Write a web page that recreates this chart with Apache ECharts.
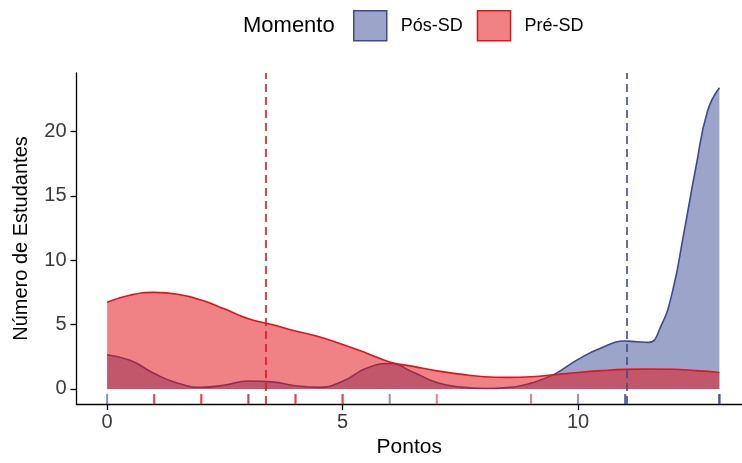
<!DOCTYPE html>
<html>
<head>
<meta charset="utf-8">
<script src="https://cdn.jsdelivr.net/npm/echarts@6/dist/echarts.min.js"></script>
<style>
 html, body { margin: 0; padding: 0; background: #fff; }
 #chart { width: 742px; height: 463px; }
</style>
</head>
<body>
<div id="chart"></div>
<script>
// densidade (escala de contagem)
const pontosPre = [0, 0.5, 1, 1.5, 2, 2.5, 3, 3.5, 4, 4.5, 5, 5.5, 6, 6.5, 7, 7.5, 8, 8.5, 9, 9.5, 10, 10.5, 11, 11.5, 12, 12.5, 13]
const densPre = [6.74, 7.3, 7.5, 7.35, 6.9, 6.2, 5.46, 5.0, 4.5, 4.05, 3.45, 2.8, 2.1, 1.75, 1.4, 1.15, 0.95, 0.9, 0.95, 1.1, 1.28, 1.42, 1.52, 1.55, 1.53, 1.42, 1.28]

const pontosPos = [0, 0.5, 1, 1.5, 2, 2.5, 3, 3.5, 4, 4.5, 5, 5.5, 6, 6.5, 7, 7.5, 8, 8.5, 9, 9.5, 10, 10.5, 11, 11.25, 11.5, 11.75, 12, 12.25, 12.5, 12.75, 13]
const densPos = [2.66, 2.2, 1.2, 0.45, 0.13, 0.3, 0.62, 0.55, 0.25, 0.12, 0.6, 1.6, 1.97, 1.3, 0.5, 0.15, 0.03, 0.1, 0.45, 1.15, 2.3, 3.2, 3.72, 3.66, 3.62, 4.8, 7.5, 12.2, 17.2, 21.6, 23.4]

// marcas do rug (pontuacoes individuais)
const rugPre = [1, 1, 2, 2, 3, 4, 4, 5, 5, 7, 9]
const rugPos = [0, 3, 6, 10, 11, 11, 13, 13, 13]

// medias de cada momento
const mediaPre = 3.37
const mediaPos = 11.03

const xTicks = [0, 5, 10]
const yTicks = [0, 5, 10, 15, 20]

const xMin = -0.65, xMax = 13.48
const yMin = -1.17, yMax = 24.54

const corPos = '#3b4a93'
const corPre = '#e3121b'
const fonte = 'Liberation Sans, Arial, sans-serif'

const rugY = yMin + 0.015 * (yMax - yMin)

const pares = (xs, ys) => xs.map((x, i) => [x, ys[i]])
const rug = (xs) => xs.map(x => [x, rugY])

const linhaMedia = (valor, cor) => ({
 silent: true,
 symbol: 'none',
 label: { show: false },
 lineStyle: { color: cor, type: [8, 5], width: 1.6 },
 data: [{ xAxis: valor }]
})

const setOption = () => {
 return {
  animation: false,
  textStyle: { fontFamily: fonte },
  title: {
   text: 'Momento',
   left: 243,
   top: 15,
   padding: 0,
   textStyle: { fontSize: 22, fontWeight: 'normal', color: '#000', fontFamily: fonte }
  },
  legend: {
   left: 353,
   top: 10,
   padding: 0,
   itemWidth: 33,
   itemHeight: 30,
   itemGap: 14,
   icon: 'rect',
   textStyle: { fontSize: 18, color: '#000', padding: [0, 0, 0, 9], fontFamily: fonte },
   data: [
    { name: 'Pós-SD', itemStyle: { color: 'rgba(59,74,147,0.5)', borderColor: corPos, borderWidth: 1.5 } },
    { name: 'Pré-SD', itemStyle: { color: 'rgba(227,18,27,0.53)', borderColor: corPre, borderWidth: 1.5 } }
   ]
  },
  grid: {
   left: 76.5,
   right: 0,
   top: 73,
   bottom: 54.5
  },
  xAxis: {
   type: 'value',
   min: xMin,
   max: xMax,
   name: 'Pontos',
   nameLocation: 'middle',
   nameGap: 33,
   nameTextStyle: { fontSize: 21, color: '#000', fontFamily: fonte },
   splitLine: { show: false },
   axisLine: { onZero: false, lineStyle: { color: '#000', width: 1.3 } },
   axisTick: { customValues: xTicks, length: 6, lineStyle: { color: '#000', width: 1.3 } },
   axisLabel: { customValues: xTicks, fontSize: 20, color: '#3a3a3a', margin: 8, fontFamily: fonte }
  },
  yAxis: {
   type: 'value',
   min: yMin,
   max: yMax,
   name: 'Número de Estudantes',
   nameLocation: 'middle',
   nameGap: 45,
   nameTextStyle: { fontSize: 20, color: '#000', fontFamily: fonte },
   splitLine: { show: false },
   axisLine: { onZero: false, lineStyle: { color: '#000', width: 1.3 } },
   axisTick: { customValues: yTicks, length: 6, lineStyle: { color: '#000', width: 1.3 } },
   axisLabel: { customValues: yTicks, fontSize: 20, color: '#3a3a3a', margin: 10, fontFamily: fonte }
  },
  series: [
   {
    name: 'Pós-SD',
    type: 'line',
    data: pares(pontosPos, densPos),
    smooth: 0.5,
    showSymbol: false,
    lineStyle: { color: corPos, width: 1.6 },
    itemStyle: { color: corPos },
    areaStyle: { color: corPos, opacity: 0.5 },
    markLine: linhaMedia(mediaPos, corPos),
    z: 2
   },
   {
    name: 'Pré-SD',
    type: 'line',
    data: pares(pontosPre, densPre),
    smooth: 0.5,
    showSymbol: false,
    lineStyle: { color: corPre, width: 1.6 },
    itemStyle: { color: corPre },
    areaStyle: { color: corPre, opacity: 0.53 },
    markLine: linhaMedia(mediaPre, corPre),
    z: 3
   },
   {
    name: 'rugPos',
    type: 'scatter',
    data: rug(rugPos),
    symbol: 'rect',
    symbolSize: [2, 10],
    silent: true,
    itemStyle: { color: corPos, opacity: 0.6 },
    z: 4
   },
   {
    name: 'rugPre',
    type: 'scatter',
    data: rug(rugPre),
    symbol: 'rect',
    symbolSize: [2, 10],
    silent: true,
    itemStyle: { color: corPre, opacity: 0.55 },
    z: 5
   }
  ]
 }
}

const chartDom = document.getElementById('chart')
const myChart = echarts.init(chartDom)
myChart.setOption(setOption(), true)
window.addEventListener('resize', () => myChart.resize())
</script>
</body>
</html>
